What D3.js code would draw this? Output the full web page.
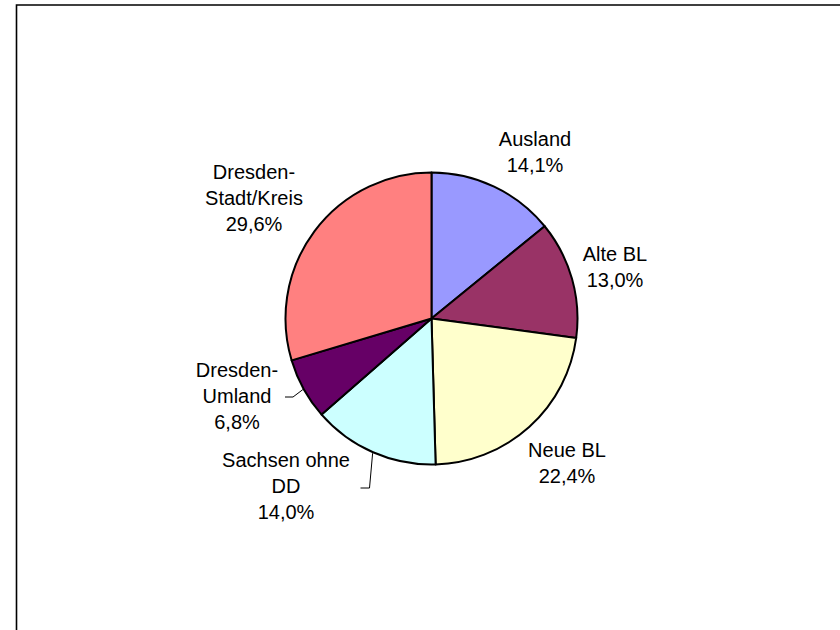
<!DOCTYPE html>
<html>
<head>
<meta charset="utf-8">
<script src="https://cdn.jsdelivr.net/npm/d3@7"></script>
<style>
html, body { margin: 0; padding: 0; background: #fff; }
svg { display: block; }
text { font-family: "Liberation Sans", Arial, sans-serif; font-size: 20px; fill: #000; }
</style>
</head>
<body>
<svg id="chart" width="840" height="630"></svg>
<script>
// ---- data ----
const categories = ["Ausland", "Alte BL", "Neue BL", "Sachsen ohne DD", "Dresden-Umland", "Dresden-Stadt/Kreis"];
const values = [14.1, 13.0, 22.4, 14.0, 6.8, 29.6];
const valueLabels = ["14,1%", "13,0%", "22,4%", "14,0%", "6,8%", "29,6%"];
const labelLines = [
  ["Ausland"],
  ["Alte BL"],
  ["Neue BL"],
  ["Sachsen ohne", "DD"],
  ["Dresden-", "Umland"],
  ["Dresden-", "Stadt/Kreis"]
];
const colors = ["#9999FF", "#993366", "#FFFFCC", "#CCFFFF", "#660066", "#FF8080"];

// ---- layout (label anchor positions: centre x, first baseline y) ----
const labelLayout = [
  { x: 535, y: 146 },
  { x: 615, y: 261 },
  { x: 567, y: 457 },
  { x: 286, y: 467 },
  { x: 237, y: 377 },
  { x: 254, y: 179 }
];
// leader lines: [elbow offset from label] for slices that have them
const leaders = {
  3: { kneeX: 369.5, kneeY: 488, endX: 360.5 },
  4: { kneeX: 293, kneeY: 397, endX: 285 }
};

const svg = d3.select("#chart");
const cx = 431.5, cy = 318.5, R = 146;
const lineH = 26;

// frame
svg.append("path")
  .attr("d", "M16.5,640 L16.5,5 L850,5")
  .attr("fill", "none").attr("stroke", "#000").attr("stroke-width", 1.6);

const pie = d3.pie().sort(null).value(d => d)(values);
const arc = d3.arc().innerRadius(0).outerRadius(R);

const g = svg.append("g").attr("transform", `translate(${cx},${cy})`);
g.selectAll("path.slice").data(pie).join("path")
  .attr("class", "slice")
  .attr("d", arc)
  .attr("fill", (d, i) => colors[i])
  .attr("stroke", "#000")
  .attr("stroke-width", 2)
  .attr("stroke-linejoin", "round");

// leader lines
Object.keys(leaders).forEach(k => {
  const i = +k, L = leaders[k];
  const a = (pie[i].startAngle + pie[i].endAngle) / 2;
  const px = cx + (R + 1) * Math.sin(a), py = cy - (R + 1) * Math.cos(a);
  svg.append("path")
    .attr("d", `M${px},${py} L${L.kneeX},${L.kneeY} L${L.endX},${L.kneeY}`)
    .attr("fill", "none").attr("stroke", "#000").attr("stroke-width", 1);
});

// labels
categories.forEach((c, i) => {
  const lines = labelLines[i].concat([valueLabels[i]]);
  const t = svg.append("text").attr("text-anchor", "middle");
  lines.forEach((ln, j) => {
    t.append("tspan").attr("x", labelLayout[i].x).attr("y", labelLayout[i].y + j * lineH).text(ln);
  });
});
</script>
</body>
</html>
